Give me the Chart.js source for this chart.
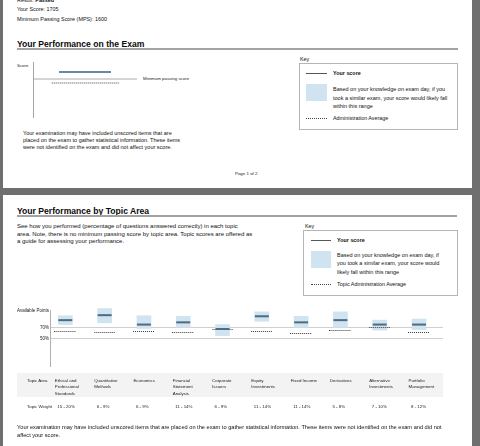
<!DOCTYPE html>
<html>
<head>
<meta charset="utf-8">
<script src="https://cdn.jsdelivr.net/npm/chart.js@4.4.0/dist/chart.umd.min.js"></script>
<style>
  html, body { margin: 0; padding: 0; }
  body {
    width: 480px; height: 446px; overflow: hidden; position: relative;
    background: #6f6f6f;
    font-family: "Liberation Sans", Arial, sans-serif; color: #111;
  }
  .page { position: absolute; left: 3px; width: 469px; background: #fff; }
  .t { position: absolute; white-space: nowrap; font-size: 5.4px; line-height: 7px; }
  .s { font-size: 4.4px; line-height: 6px; color: #222; }
  .title { font-size: 8.6px; line-height: 10px; font-weight: bold; color: #0a0a0a; }
  .rule { position: absolute; background: #a3a3a3; }
  .keybox { position: absolute; border: 1px solid #b5b5b5; box-sizing: border-box; }
  .swatch { position: absolute; background: #cfe3f1; }
  .solid { position: absolute; height: 1px; background: #555; }
  .dots { position: absolute; height: 0; border-top: 1px dotted #444; }
  canvas { position: absolute; }
  #band { position: absolute; left: 17px; top: 373px; width: 426px; height: 24px; background: #f3f3f3; }
</style>
</head>
<body>
<div class="page" style="top:-10px;height:198px;"></div>
<div class="page" style="top:195px;height:260px;"></div>

<!-- page 1 -->
<div class="t" style="left:17px;top:-3.5px;">Result: <b>Passed</b></div>
<div class="t" style="left:17px;top:6px;">Your Score: 1705</div>
<div class="t" style="left:17px;top:15.5px;">Minimum Passing Score (MPS): 1600</div>
<div class="t title" style="left:17px;top:38.5px;">Your Performance on the Exam</div>
<div class="rule" style="left:17px;top:47.5px;width:441px;height:2px;"></div>

<div class="t s" style="left:17px;top:63px;">Score</div>
<div class="t s" style="left:143px;top:76px;">Minimum passing score</div>
<canvas id="examChart" width="150" height="70" style="left:0;top:55px;"></canvas>

<div class="t" style="left:23px;top:129.5px;font-size:5.5px;">Your examination may have included unscored items that are<br>placed on the exam to gather statistical information. These items<br>were not identified on the exam and did not affect your score.</div>

<div class="t" style="left:300px;top:56px;">Key</div>
<div class="keybox" style="left:299px;top:63px;width:159px;height:67px;"></div>
<div class="solid" style="left:306px;top:73px;width:21px;"></div>
<div class="t" style="left:333px;top:69.5px;font-weight:bold;">Your score</div>
<div class="swatch" style="left:306px;top:84px;width:21px;height:17px;"></div>
<div class="t" style="left:333px;top:85px;line-height:8.5px;font-size:5.5px;">Based on your knowledge on exam day, if you<br>took a similar exam, your score would likely fall<br>within this range</div>
<div class="dots" style="left:306px;top:118px;width:21px;"></div>
<div class="t" style="left:333px;top:114.5px;">Administration Average</div>

<div class="t s" style="left:235px;top:171px;">Page 1 of 2</div>

<!-- page 2 -->
<div class="t title" style="left:17px;top:206px;">Your Performance by Topic Area</div>
<div class="rule" style="left:17px;top:215px;width:440px;height:1.5px;"></div>
<div class="t" style="left:17px;top:222.8px;line-height:7.7px;font-size:6px;">See how you performed (percentage of questions answered correctly) in each topic<br>area. Note, there is no minimum passing score by topic area. Topic scores are offered as<br>a guide for assessing your performance.</div>

<div class="t" style="left:305px;top:222.5px;">Key</div>
<div class="keybox" style="left:303px;top:230px;width:155px;height:66px;"></div>
<div class="solid" style="left:311px;top:240px;width:20px;"></div>
<div class="t" style="left:337px;top:236.5px;font-weight:bold;">Your score</div>
<div class="swatch" style="left:311px;top:251px;width:20px;height:17px;"></div>
<div class="t" style="left:337px;top:250.8px;line-height:8.5px;font-size:5.5px;">Based on your knowledge on exam day, if<br>you took a similar exam, your score would<br>likely fall within this range</div>
<div class="dots" style="left:311px;top:284px;width:20px;"></div>
<div class="t" style="left:337px;top:280.5px;">Topic Administration Average</div>

<canvas id="topicChart" width="460" height="75" style="left:0;top:300px;"></canvas>

<div id="band"></div>
<div id="table"></div>

<div class="t" style="left:17px;top:424.2px;line-height:7.7px;font-size:5.65px;">Your examination may have included unscored items that are placed on the exam to gather statistical information. These items were not identified on the exam and did not<br>affect your score.</div>

<script>
// exam level values
const examScore = 1705;
const passingScore = 1600;
const examAverage = 1540;

// topic area values (percent correct)
const topics = [
    ['Ethical and', 'Professional', 'Standards'],
    ['Quantitative', 'Methods'],
    ['Economics'],
    ['Financial', 'Statement', 'Analysis'],
    ['Corporate', 'Issuers'],
    ['Equity', 'Investments'],
    ['Fixed Income'],
    ['Derivatives'],
    ['Alternative', 'Investments'],
    ['Portfolio', 'Management']
];
const topicWeights = ['15 - 20%', '6 - 9%', '6 - 9%', '11 - 14%', '6 - 9%', '11 - 14%', '11 - 14%', '5 - 8%', '7 - 10%', '8 - 12%'];
const rangeLow  = [75, 78, 68, 70, 55, 81, 70, 70, 65, 66];
const rangeHigh = [91, 104, 91, 90, 75, 98, 90, 98, 83, 85];
const topicScore = [83, 92, 75, 79, 67, 90, 79, 83, 75, 75];
const topicAverage = [63, 60, 62, 61, 66, 63, 59, 65, 70, 61];
const yTicks = [50, 70, 100];

Chart.defaults.font.family = '"Liberation Sans", Arial, sans-serif';
Chart.defaults.color = '#222';

// --- exam score chart ---
function renderExamChart() {
    const canvas = document.getElementById('examChart');
    if (!canvas) return;
    const span = (a, b, v) => [{ x: a, y: v }, { x: b, y: v }];
    new Chart(canvas.getContext('2d'), {
        type: 'line',
        data: {
            datasets: [
                { data: span(25, 75, examScore), borderColor: '#6a87a3', borderWidth: 2.2, pointRadius: 0 },
                { data: span(0, 100, passingScore), borderColor: '#a9a9a9', borderWidth: 1, pointRadius: 0 },
                { data: span(18, 83, examAverage), borderColor: '#444', borderWidth: 1, borderDash: [1, 1], pointRadius: 0 }
            ]
        },
        options: {
            responsive: false,
            animation: false,
            devicePixelRatio: 1,
            layout: { padding: { top: 7, bottom: 8, right: 13, left: 0 } },
            plugins: { legend: { display: false }, tooltip: { enabled: false } },
            scales: {
                x: { type: 'linear', min: 0, max: 100, display: false },
                y: {
                    min: 1030, max: 1855,
                    ticks: { display: false },
                    grid: { display: false },
                    border: { display: true, color: '#a5a5a5', width: 1 },
                    afterFit: (s) => { s.width = 33; }
                }
            }
        }
    });
}

// dotted marker used for the topic administration average
function dottedMarker(w) {
    const c = document.createElement('canvas');
    c.width = w; c.height = 1;
    const g = c.getContext('2d');
    g.fillStyle = '#3a3a3a';
    for (let i = 0; i < w; i += 2) g.fillRect(i, 0, 1, 1);
    return c;
}

// --- topic area chart ---
function renderTopicChart() {
    const canvas = document.getElementById('topicChart');
    if (!canvas) return null;
    const idx = topics.map((_, i) => i);
    return new Chart(canvas.getContext('2d'), {
        type: 'bar',
        data: {
            labels: topics,
            datasets: [
                {
                    type: 'line', label: 'Your score', order: 0, showLine: false, clip: false,
                    data: idx.map(i => ({ x: i, y: topicScore[i] })),
                    pointStyle: 'line', pointRadius: 7, pointBorderWidth: 2, pointBorderColor: '#4e6b7f'
                },
                {
                    type: 'line', label: 'Topic Administration Average', order: 1, showLine: false, clip: false,
                    data: idx.map(i => ({ x: i, y: topicAverage[i] })),
                    pointStyle: dottedMarker(22), pointRadius: 1
                },
                {
                    label: 'Range', order: 2, clip: false,
                    data: idx.map(i => ({ x: i, y: [rangeLow[i], rangeHigh[i]] })),
                    backgroundColor: '#cfe3f1', borderWidth: 0, barThickness: 14
                }
            ]
        },
        options: {
            responsive: false,
            animation: false,
            devicePixelRatio: 1,
            layout: { padding: { top: 10.75, bottom: 6.75, right: 17, left: 0 } },
            plugins: { legend: { display: false }, tooltip: { enabled: false } },
            scales: {
                x: { type: 'linear', min: -0.39, max: 9.61, offset: false, display: false },
                y: {
                    min: 0, max: 100,
                    afterBuildTicks: (s) => { s.ticks = yTicks.map(v => ({ value: v })); },
                    ticks: {
                        padding: 1,
                        font: { size: 4.5 },
                        color: '#222',
                        callback: (v) => (v === 100 ? 'Available Points' : v + '%')
                    },
                    grid: {
                        drawTicks: false,
                        lineWidth: 1,
                        color: (c) => (c.tick && c.tick.value === 100 ? 'rgba(0,0,0,0)' : '#cfcfcf')
                    },
                    border: { display: true, color: '#b0b0b0', width: 1 },
                    afterFit: (s) => { s.width = 50; }
                }
            }
        }
    });
}

// topic table positioned from the chart's x scale
function renderTopicTable(chart) {
    const table = document.getElementById('table');
    const add = (html, left, top, lh) => {
        const d = document.createElement('div');
        d.className = 't s';
        d.style.left = left + 'px';
        d.style.top = top + 'px';
        d.style.lineHeight = lh + 'px';
        d.innerHTML = html;
        table.appendChild(d);
    };
    add('Topic Area', 27, 378, 6.3);
    add('Topic Weight', 27, 404, 6.3);
    const xs = chart.scales.x;
    topics.forEach((name, i) => {
        const cx = xs.getPixelForValue(i);
        add(name.join('<br>'), cx - 10.5, 378, 6.3);
        add(topicWeights[i], cx - 8, 404, 6.3);
    });
}

try {
    renderExamChart();
    const topicChart = renderTopicChart();
    if (topicChart) renderTopicTable(topicChart);
} catch (error) {
    console.error('Error rendering charts:', error);
}
</script>
</body>
</html>
